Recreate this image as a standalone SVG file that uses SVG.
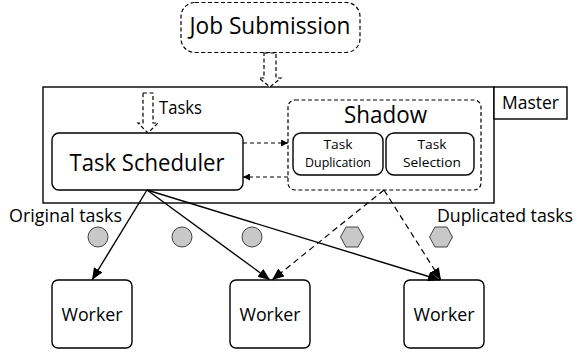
<svg xmlns="http://www.w3.org/2000/svg" width="578" height="355" viewBox="0 0 578 355">
<style>
text{font-family:"Open Sans","Noto Sans","Liberation Sans",sans-serif;fill:#000}
.box{fill:#fff;stroke:#000;stroke-width:1.4}
.dbox{fill:#fff;stroke:#000;stroke-width:1.2;stroke-dasharray:4 2.5}
.ln{fill:none;stroke:#000;stroke-width:1.4}
.dl{fill:none;stroke:#000;stroke-width:1.2;stroke-dasharray:6 4}
.dl2{fill:none;stroke:#000;stroke-width:1.1;stroke-dasharray:4 3}
.tok{fill:#c8c8c8;stroke:#444;stroke-width:1}
</style>
<defs>
<marker id="ah" markerUnits="userSpaceOnUse" markerWidth="12" markerHeight="10" refX="12" refY="5" orient="auto">
<path d="M0,0 L12,5 L0,10 z" fill="#000"/>
</marker>
<marker id="as" markerUnits="userSpaceOnUse" markerWidth="7" markerHeight="7" refX="7" refY="3.5" orient="auto">
<path d="M0,0 L7,3.5 L0,7 z" fill="#000"/>
</marker>
</defs>
<g id="job">
<rect class="dbox" x="181" y="2.5" width="179" height="50" rx="14"/>
<text x="270" y="34" font-size="23" text-anchor="middle" textLength="161" lengthAdjust="spacingAndGlyphs">Job Submission</text>
</g>
<g id="master">
<rect class="box" x="43" y="87" width="451" height="116"/>
<rect class="box" x="494" y="87" width="73" height="32"/>
<text x="530.5" y="109" font-size="18" text-anchor="middle" textLength="57" lengthAdjust="spacingAndGlyphs">Master</text>
</g>
<g id="scheduler">
<rect class="box" x="52" y="133" width="191" height="57" rx="7"/>
<text x="147" y="171" font-size="23" text-anchor="middle" textLength="155" lengthAdjust="spacingAndGlyphs">Task Scheduler</text>
</g>
<g id="shadow">
<rect class="dbox" x="288" y="100" width="193" height="90" rx="7"/>
<text x="385.5" y="123" font-size="23" text-anchor="middle" textLength="83" lengthAdjust="spacingAndGlyphs">Shadow</text>
</g>
<g id="duplication">
<rect class="box" x="293" y="133" width="90" height="42" rx="8"/>
<text x="338" y="149" font-size="13" text-anchor="middle" textLength="29" lengthAdjust="spacingAndGlyphs">Task</text>
<text x="338" y="167" font-size="13" text-anchor="middle" textLength="66" lengthAdjust="spacingAndGlyphs">Duplication</text>
</g>
<g id="selection">
<rect class="box" x="386" y="133" width="88" height="42" rx="8"/>
<text x="432" y="149" font-size="13" text-anchor="middle" textLength="29" lengthAdjust="spacingAndGlyphs">Task</text>
<text x="432" y="167" font-size="13" text-anchor="middle" textLength="58" lengthAdjust="spacingAndGlyphs">Selection</text>
</g>
<g id="worker1">
<rect class="box" x="52" y="280" width="80" height="68" rx="6"/>
<text x="92" y="321" font-size="18.5" text-anchor="middle" textLength="61" lengthAdjust="spacingAndGlyphs">Worker</text>
</g>
<g id="worker2">
<rect class="box" x="230" y="280" width="80" height="68" rx="6"/>
<text x="270" y="321" font-size="18.5" text-anchor="middle" textLength="61" lengthAdjust="spacingAndGlyphs">Worker</text>
</g>
<g id="worker3">
<rect class="box" x="404" y="280" width="80" height="68" rx="6"/>
<text x="444" y="321" font-size="18.5" text-anchor="middle" textLength="61" lengthAdjust="spacingAndGlyphs">Worker</text>
</g>
<g id="labels">
<text x="9" y="222" font-size="18" textLength="113" lengthAdjust="spacingAndGlyphs">Original tasks</text>
<text x="437" y="222" font-size="18" textLength="136" lengthAdjust="spacingAndGlyphs">Duplicated tasks</text>
<text x="159" y="114" font-size="18" textLength="43" lengthAdjust="spacingAndGlyphs">Tasks</text>
</g>
<g id="tokens">
<circle class="tok" cx="98" cy="237" r="10"/>
<circle class="tok" cx="182" cy="237" r="10"/>
<circle class="tok" cx="252" cy="237" r="10"/>
<polygon class="tok" points="340.5,237 346,227 358,227 363.5,237 358,247 346,247"/>
<polygon class="tok" points="429.5,237 435,227 447,227 452.5,237 447,247 435,247"/>
</g>
<g id="connectors">
<polygon class="dbox" points="264,53 276,53 276,78 281,78 270,87 259,78 264,78 264,53"/>
<polygon class="dbox" points="143,93 153,93 153,123 158,123 148,133 138,123 143,123 143,93"/>
<line class="dl2" x1="243" y1="143" x2="288" y2="143" marker-end="url(#as)"/>
<line class="dl2" x1="288" y1="177" x2="243" y2="177" marker-end="url(#as)"/>
<line class="ln" x1="147" y1="190" x2="92" y2="280" marker-end="url(#ah)"/>
<line class="ln" x1="147" y1="190" x2="270" y2="280" marker-end="url(#ah)"/>
<line class="ln" x1="147" y1="190" x2="440" y2="280" marker-end="url(#ah)"/>
<line class="dl" x1="384" y1="190" x2="272" y2="280" marker-end="url(#ah)"/>
<line class="dl" x1="384" y1="190" x2="441" y2="280" marker-end="url(#ah)"/>
</g>
</svg>
